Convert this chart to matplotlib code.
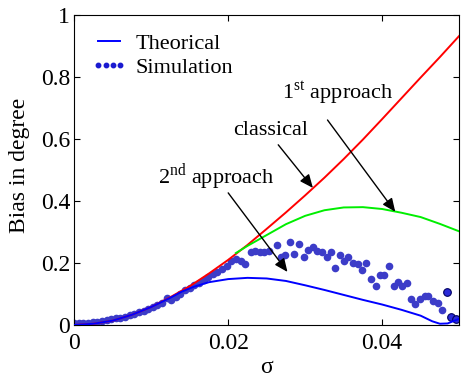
import matplotlib
matplotlib.use("Agg")
import matplotlib.pyplot as plt
from matplotlib.lines import Line2D

plt.rcParams['font.family'] = ['Liberation Serif', 'DejaVu Serif']
plt.rcParams['mathtext.fontset'] = 'custom'
plt.rcParams['mathtext.rm'] = 'Liberation Serif'

# 1st approach (red)
red_sigma = [0, 0.0025, 0.005, 0.0075, 0.01, 0.0125, 0.015, 0.0175, 0.02, 0.0225,
             0.025, 0.0275, 0.03, 0.0325, 0.035, 0.0375, 0.04, 0.0425, 0.045, 0.0475, 0.05]
red_bias = [0, 0.004, 0.014, 0.033, 0.058, 0.09, 0.125, 0.166, 0.21, 0.258,
            0.31, 0.363, 0.418, 0.475, 0.535, 0.598, 0.664, 0.731, 0.798, 0.864, 0.932]

# classical (green), drawn where it departs from the red curve
green_sigma = [0.021, 0.0225, 0.025, 0.0275, 0.03, 0.0325, 0.035, 0.0375, 0.04, 0.0425, 0.045, 0.0475, 0.05]
green_bias = [0.232, 0.255, 0.29, 0.325, 0.352, 0.37, 0.379, 0.38, 0.374, 0.362, 0.348, 0.326, 0.302]

# theoretical (blue)
blue_sigma = [0, 0.0025, 0.005, 0.0075, 0.01, 0.0125, 0.014, 0.0155, 0.0175, 0.02, 0.0225,
              0.025, 0.0275, 0.03, 0.0325, 0.035, 0.0375, 0.04, 0.0425, 0.045, 0.0465,
              0.0475, 0.0485, 0.0495, 0.05]
blue_bias = [0, 0.004, 0.014, 0.033, 0.058, 0.088, 0.108, 0.123, 0.138, 0.148, 0.152,
             0.15, 0.142, 0.128, 0.113, 0.097, 0.081, 0.066, 0.049, 0.03, 0.012,
             0.004, 0.005, 0.015, 0.02]

# simulation (dots)
sim_sigma = [0, 0.0006, 0.0012, 0.0018, 0.0024, 0.003, 0.0036, 0.0042, 0.0048, 0.0054,
             0.006, 0.0066, 0.0072, 0.0078, 0.0084, 0.009, 0.0096, 0.0102, 0.0108, 0.0114,
             0.012, 0.0126, 0.0132, 0.0138, 0.0144, 0.015, 0.0156, 0.0162, 0.0168, 0.0174,
             0.018, 0.0186, 0.0192, 0.0198, 0.0204, 0.021, 0.0216, 0.0222, 0.0229, 0.0235,
             0.0241, 0.0247, 0.0253, 0.0263, 0.0268, 0.0274, 0.028, 0.0286, 0.0292, 0.0299,
             0.0304, 0.031, 0.0316, 0.0322, 0.0328, 0.0333, 0.0339, 0.0345, 0.0351, 0.0356,
             0.0362, 0.0368, 0.0374, 0.0379, 0.0386, 0.0392, 0.0397, 0.0403, 0.0409, 0.0415,
             0.042, 0.0426, 0.0432, 0.0438, 0.0443, 0.0449, 0.0455, 0.046, 0.0466, 0.0472,
             0.0478]
sim_bias = [0.006, 0.006, 0.007, 0.008, 0.009, 0.011, 0.013, 0.016, 0.018, 0.021,
            0.024, 0.027, 0.031, 0.036, 0.041, 0.046, 0.052, 0.058, 0.065, 0.072,
            0.088, 0.08, 0.09, 0.1, 0.113, 0.118, 0.13, 0.136, 0.145, 0.155,
            0.165, 0.172, 0.18, 0.19, 0.207, 0.212, 0.205, 0.197, 0.236, 0.237,
            0.236, 0.236, 0.238, 0.258, 0.22, 0.226, 0.269, 0.23, 0.26, 0.218,
            0.242, 0.25, 0.238, 0.235, 0.218, 0.235, 0.185, 0.226, 0.206, 0.218,
            0.2, 0.197, 0.176, 0.2, 0.147, 0.127, 0.161, 0.161, 0.19, 0.127,
            0.138, 0.127, 0.135, 0.083, 0.067, 0.083, 0.095, 0.095, 0.076, 0.072,
            0.048]
# last simulation points, drawn with a dark outline
sim_end_sigma = [0.0484, 0.049, 0.0496]
sim_end_bias = [0.107, 0.025, 0.019]

fig = plt.figure(figsize=(4.61, 3.81), dpi=100)
ax = fig.add_axes([0.161, 0.147, 0.835, 0.814])

ax.plot(sim_sigma, sim_bias, 'o', color='#3c3cc8', markersize=5.5, markeredgewidth=0, zorder=2)
ax.plot(sim_end_sigma, sim_end_bias, 'o', color='#2a2ad8', markeredgecolor='#000060',
        markersize=5.5, markeredgewidth=0.8, zorder=2)
ax.plot(red_sigma, red_bias, color='#ff0000', lw=1.4, zorder=3)
ax.plot(green_sigma, green_bias, color='#00ee00', lw=1.4, zorder=3)
ax.plot(blue_sigma, blue_bias, color='#0000ff', lw=1.4, zorder=3)

ax.set_xlim(0, 0.05)
ax.set_ylim(0, 1)
ax.set_xticks([0, 0.02, 0.04])
ax.set_xticklabels(['0', '0.02', '0.04'])
ax.set_yticks([0, 0.2, 0.4, 0.6, 0.8, 1])
ax.set_yticklabels(['0', '0.2', '0.4', '0.6', '0.8', '1'])
ax.tick_params(direction='in', top=True, right=True, length=4, labelsize=17)
ax.tick_params(axis='x', pad=6)
ax.tick_params(axis='y', pad=3)
ax.set_xlabel('σ', fontsize=17, labelpad=2)
ax.set_ylabel('Bias in degree', fontsize=17)
ax.yaxis.set_label_coords(-0.115, 0.516)

handles = [Line2D([], [], color='#0000ff', lw=1.4),
           Line2D([], [], color='#1a1ad0', marker='o', ls='none', markersize=3.2)]
ax.legend(handles, ['Theorical', 'Simulation'], loc='upper left', frameon=False,
          fontsize=16, numpoints=4, handlelength=1.6, handletextpad=0.4,
          labelspacing=0.15, borderaxespad=0, borderpad=0,
          bbox_to_anchor=(0.045, 0.94))

arrow = dict(arrowstyle='-|>,head_length=0.8,head_width=0.35', color='black', lw=1, shrinkA=0, shrinkB=0)
ax.annotate('', xy=(0.0417, 0.365), xytext=(0.0329, 0.661), arrowprops=arrow)
ax.annotate('', xy=(0.0310, 0.442), xytext=(0.0265, 0.581), arrowprops=arrow)
ax.annotate('', xy=(0.0277, 0.171), xytext=(0.0200, 0.426), arrowprops=arrow)
ax.text(0.0270, 0.729, r'1$^{\rm st}$ approach', fontsize=16, va='baseline')
ax.text(0.0206, 0.613, 'classical', fontsize=16, va='baseline')
ax.text(0.0109, 0.455, r'2$^{\rm nd}$ approach', fontsize=16, va='baseline')

fig.savefig('out.png', dpi=100)
